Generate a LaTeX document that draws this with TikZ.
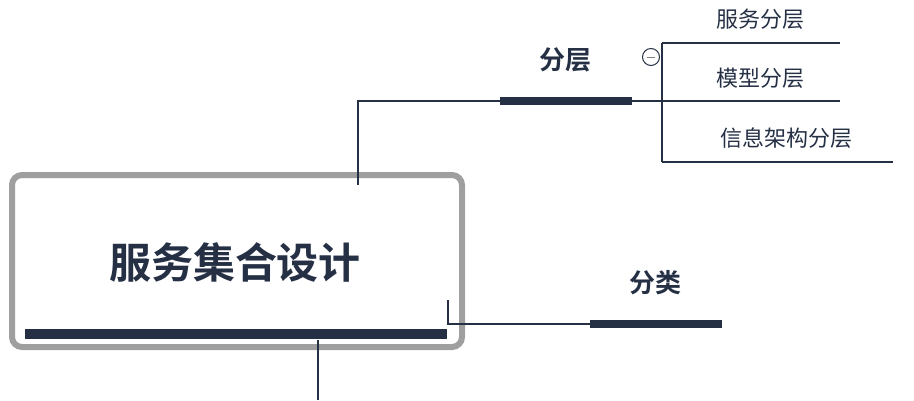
\documentclass[tikz,border=0pt]{standalone}
\usepackage{fontspec}
\newfontfamily\cjk{Noto Sans CJK SC}
\newfontfamily\cjkb{Noto Sans CJK SC Bold}
\definecolor{navy}{HTML}{253045}
\tikzset{
    bar/.style={navy, line width=8pt},
    link/.style={navy, line width=1.3pt},
    topic/.style={font=\cjkb\fontsize{26}{30}\selectfont, text=navy},
    leaf/.style={font=\cjk\fontsize{22}{26}\selectfont, text=navy}
}
\begin{document}
\begin{tikzpicture}[x=1pt, y=-1pt]
  \useasboundingbox (0,0) rectangle (914,400);
  % central topic
  \draw [gray!75, line width=6pt, rounded corners=10pt, fill=white] (12,175) rectangle (462,347);
  \node (main) [font=\cjkb\fontsize{42}{48}\selectfont, text=navy] at (235,262) {服务集合设计};
  \coordinate (mbl) at (25,334);
  \coordinate (mbr) at (447,334);
  \draw [navy, line width=10pt] (mbl) -- (mbr);
  \coordinate (down) at (318,340);
  \coordinate (downend) at (318,400);
  \draw [link] (down) -- (downend);
  % branch: layers
  \coordinate (up) at (358,185);
  \coordinate (lbl) at (500,101);
  \coordinate (lbr) at (632,101);
  \node (layers) [topic] at (565,60) {分层};
  \draw [link] (up) |- (lbl);
  \draw [bar] (lbl) -- (lbr);
  \coordinate (fork) at (662,101);
  \draw [link] (lbr) -- (fork);
  \coordinate (ftop) at (662,43);
  \coordinate (fbot) at (662,162);
  \draw [link] (ftop) -- (fbot);
  \coordinate (e1) at (840,43);
  \coordinate (e2) at (840,101);
  \coordinate (e3) at (893,162);
  \draw [link] (ftop) -- (e1);
  \draw [link] (fork) -- (e2);
  \draw [link] (fbot) -- (e3);
  \node (l1) [leaf] at (760,19) {服务分层};
  \node (l2) [leaf] at (760,78) {模型分层};
  \node (l3) [leaf] at (786,138) {信息架构分层};
  \node (fold) [circle, draw=navy, line width=1pt, fill=white, minimum size=17pt, inner sep=0pt] at (651,57) {};
  \draw [gray, line width=1pt] ([xshift=-4pt]fold.center) -- ([xshift=4pt]fold.center);
  % branch: kinds
  \coordinate (side) at (448,300);
  \coordinate (kbl) at (590,324);
  \coordinate (kbr) at (722,324);
  \node (kinds) [topic] at (655,283) {分类};
  \draw [link] (side) |- (kbl);
  \draw [bar] (kbl) -- (kbr);
\end{tikzpicture}
\end{document}
